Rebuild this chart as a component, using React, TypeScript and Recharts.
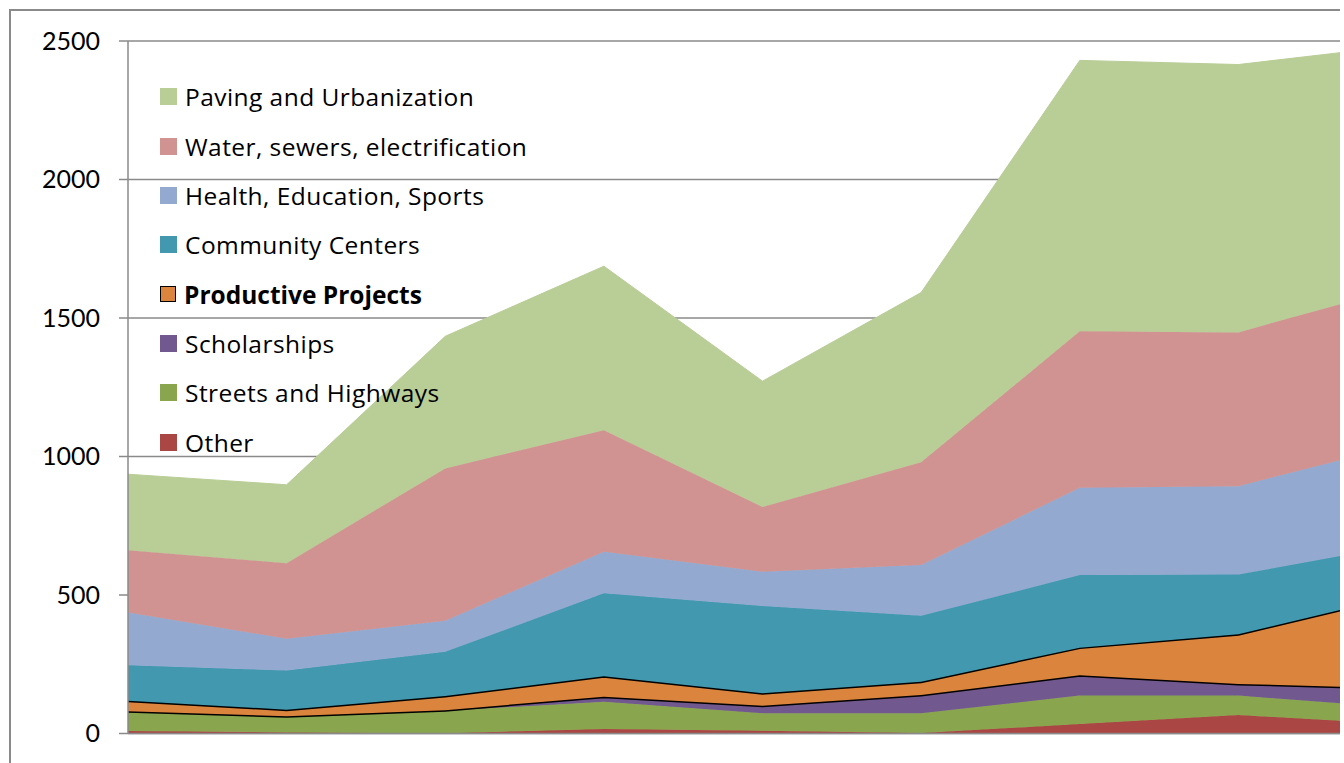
import React from "react";
import { AreaChart, Area, XAxis, YAxis, CartesianGrid } from "recharts";

const periods = ["1", "2", "3", "4", "5", "6", "7", "8", "9"];

const other = [9, 4, 1, 16, 10, 2, 34, 67, 34];
const streets = [70, 57, 81, 99, 63, 71, 103, 70, 59];
const scholarships = [1, 1, 2, 18, 27, 66, 73, 42, 70];
const productive = [38, 24, 51, 74, 45, 48, 100, 179, 332];
const community = [128, 141, 160, 299, 315, 238, 262, 216, 183];
const health = [191, 115, 112, 150, 124, 183, 315, 319, 361];
const water = [225, 273, 550, 439, 234, 371, 565, 555, 568];
const paving = [274, 283, 477, 592, 454, 613, 978, 967, 875];

const yTicks = [0, 500, 1000, 1500, 2000, 2500];

// bottom of the stack first
const series = [
  { key: "other", name: "Other", values: other, color: "#AA4643" },
  { key: "streets", name: "Streets and Highways", values: streets, color: "#89A54E" },
  { key: "scholarships", name: "Scholarships", values: scholarships, color: "#71588F" },
  { key: "productive", name: "Productive Projects", values: productive, color: "#DB843D" },
  { key: "community", name: "Community Centers", values: community, color: "#4198AF" },
  { key: "health", name: "Health, Education, Sports", values: health, color: "#93A9CF" },
  { key: "water", name: "Water, sewers, electrification", values: water, color: "#D19392" },
  { key: "paving", name: "Paving and Urbanization", values: paving, color: "#B9CD96" },
];

const data = periods.map((p, i) => {
  const row: Record<string, number | string> = { period: p };
  series.forEach((s) => {
    row[s.key] = s.values[i];
  });
  return row;
});

const AXIS_FONT = "Lato, 'Open Sans', sans-serif";
const LEGEND_FONT = "'Open Sans', 'Noto Sans', sans-serif";
const GRID = "#8a8a8a";

const LegendBox: React.FC = () => (
  <div
    style={{
      position: "absolute",
      left: 160,
      top: 72.3,
      fontFamily: LEGEND_FONT,
      fontSize: 24.5,
      color: "#000",
    }}
  >
    {[...series].reverse().map((s) => {
      const bold = s.key === "productive";
      return (
        <div
          key={s.key}
          style={{ height: 49.3, display: "flex", alignItems: "center" }}
        >
          <span
            style={{
              display: "inline-block",
              width: bold ? 14 : 17,
              height: bold ? 14 : 17,
              background: s.color,
              border: bold ? "1.5px solid #000" : "none",
              marginRight: 8,
            }}
          />
          <span
            style={{
              fontWeight: bold ? 700 : 400,
              letterSpacing: bold ? 0 : 0.45,
            }}
          >
            {s.name}
          </span>
        </div>
      );
    })}
  </div>
);

export default function App() {
  return (
    <div
      style={{
        position: "absolute",
        left: 0,
        top: 0,
        width: 1340,
        height: 763,
        overflow: "hidden",
        background: "#fff",
      }}
    >
      <div
        style={{
          position: "absolute",
          left: 9,
          top: 9,
          width: 2000,
          height: 2000,
          border: `2px solid ${GRID}`,
        }}
      />
      <div style={{ position: "absolute", left: 0, top: 0 }}>
        <AreaChart
          width={1417}
          height={763.5}
          data={data}
          margin={{ top: 41, right: 20, left: 0, bottom: 0 }}
        >
          <CartesianGrid
            vertical={false}
            stroke={GRID}
            strokeWidth={1.5}
            strokeDasharray=""
          />
          <XAxis
            dataKey="period"
            height={30}
            axisLine={{ stroke: GRID, strokeWidth: 1.5 }}
            tickLine={{ stroke: GRID, strokeWidth: 1.5 }}
            tickSize={9}
            tick={false}
          />
          <YAxis
            width={128}
            domain={[0, 2500]}
            ticks={yTicks}
            interval={0}
            axisLine={{ stroke: GRID, strokeWidth: 1.5 }}
            tickLine={{ stroke: GRID, strokeWidth: 1.5 }}
            tickSize={9}
            tickMargin={19}
            tick={{ fill: "#000", fontSize: 25, fontFamily: AXIS_FONT }}
          />
          {series.map((s) => {
            const outlined = s.key === "productive" || s.key === "scholarships";
            return (
              <Area
                key={s.key}
                type="linear"
                dataKey={s.key}
                name={s.name}
                stackId="1"
                fill={s.color}
                fillOpacity={1}
                stroke={outlined ? "#000" : s.color}
                strokeWidth={outlined ? 3 : 1}
                dot={false}
                activeDot={false}
                isAnimationActive={false}
              />
            );
          })}
        </AreaChart>
      </div>
      <LegendBox />
    </div>
  );
}
